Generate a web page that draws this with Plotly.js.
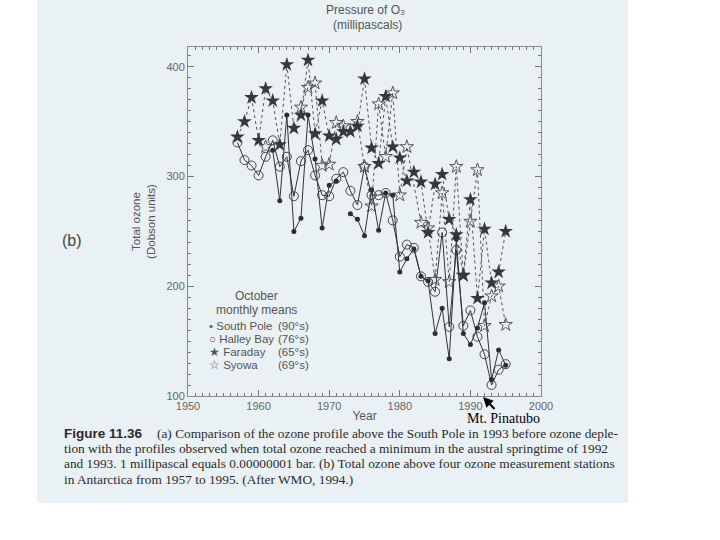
<!DOCTYPE html>
<html>
<head>
<meta charset="utf-8">
<script src="https://cdn.plot.ly/plotly-3.0.1.min.js"></script>
<style>
html,body{margin:0;padding:0;background:#ffffff;}
#chart{width:720px;height:540px;}
</style>
</head>
<body>
<div id="chart"></div>
<script>
// ---- data ----
const southPoleYears = [1962,1963,1964,1965,1966,1967,1968,1969,1970,1971,1972,1973,1974,1975,1976,1977,1978,1979,1980,1981,1982,1983,1984,1985,1986,1987,1988,1989,1990,1991,1992,1993,1994,1995];
const southPoleOzone = [324,278,356,250,262,356,316,253,292,296,null,266,261,246,288,251,285,283,213,225,234,209,205,157,180,134,243,157,147,162,185,115,142,128];

const halleyYears = [1957,1958,1959,1960,1961,1962,1963,1964,1965,1966,1967,1968,1969,1970,1971,1972,1973,1974,1975,1976,1977,1978,1979,1980,1981,1982,1983,1984,1985,1986,1987,1988,1989,1990,1991,1992,1993,1994,1995];
const halleyOzone = [331,315,310,301,318,333,309,318,282,314,324,301,283,282,298,304,287,274,309,283,283,285,260,227,238,235,209,204,195,249,163,233,164,178,154,138,110,124,129];

const faradayYears = [1957,1958,1959,1960,1961,1962,1963,1964,1965,1966,1967,1968,1969,1970,1971,1972,1973,1974,1975,1976,1977,1978,1979,1980,1981,1982,1983,1984,1985,1986,1987,1988,1989,1990,1991,1992,1993,1994,1995];
const faradayOzone = [336,350,372,333,380,369,329,402,344,356,406,339,369,337,334,341,341,346,389,326,312,373,327,317,296,304,295,249,293,302,261,247,210,279,189,252,203,213,250];

const syowaYears = [1961,1962,1966,1967,1968,1969,1970,1971,1972,1974,1975,1976,1977,1978,1979,1980,1981,1983,1984,1985,1986,1987,1988,1989,1990,1991,1992,1993,1994,1995];
const syowaOzone = [327,null,363,381,385,310,311,349,346,350,309,273,366,318,376,283,327,258,253,206,285,204,309,210,259,306,164,191,200,165];

const xTicks = [1950,1960,1970,1980,1990,2000];
const yTicks = [100,200,300,400];

const legendNames = ['\u2022 South Pole', '\u25CB Halley Bay', '\u2605 Faraday', '\u2606 Syowa'];
const legendLats = ['(90\u00B0s)', '(76\u00B0s)', '(65\u00B0s)', '(69\u00B0s)'];

const captionLines = [
  '(a) Comparison of the ozone profile above the South Pole in 1993 before ozone deple-',
  'tion with the profiles observed when total ozone reached a minimum in the austral springtime of 1992',
  'and 1993. 1 millipascal equals 0.00000001 bar. (b) Total ozone above four ozone measurement stations',
  'in Antarctica from 1957 to 1995. (After WMO, 1994.)'
];

// ---- traces ----
const traces = [
  {x: syowaYears, y: syowaOzone, mode: 'lines+markers', name: 'Syowa',
   line: {color: '#555', width: 1, dash: '3px,3px'},
   marker: {symbol: 'star-open', size: 10, color: '#555', line: {color: '#555', width: 1}}},
  {x: faradayYears, y: faradayOzone, mode: 'lines+markers', name: 'Faraday',
   line: {color: '#555', width: 1, dash: '3px,3px'},
   marker: {symbol: 'star', size: 11, color: '#383838'}},
  {x: halleyYears, y: halleyOzone, mode: 'lines+markers', name: 'Halley Bay',
   line: {color: '#333', width: 1},
   marker: {symbol: 'circle-open', size: 9, color: '#444', line: {color: '#444', width: 1}}},
  {x: southPoleYears, y: southPoleOzone, mode: 'lines+markers', name: 'South Pole',
   line: {color: '#333', width: 1},
   marker: {symbol: 'circle', size: 5, color: '#2e2e2e'}}
];

// ---- layout helpers ----
const L = 188, R = 541, T = 47, B = 396;
const px = v => (v - L) / (R - L);
const py = v => (B - v) / (B - T);
const gray = '#555';
const sans = 'Liberation Sans, Arial, sans-serif';
const serif = 'Liberation Serif, Times New Roman, serif';

const annotations = [
  {xref:'paper', yref:'paper', x: px(365), y: py(10), text: 'Pressure of O\u2083', showarrow:false,
   font:{family:sans, size:12, color:gray}, xanchor:'center', yanchor:'middle'},
  {xref:'paper', yref:'paper', x: px(367), y: py(25), text: '(millipascals)', showarrow:false,
   font:{family:sans, size:12, color:gray}, xanchor:'center', yanchor:'middle'},
  {xref:'paper', yref:'paper', x: px(72), y: py(240), text: '(b)', showarrow:false,
   font:{family:sans, size:16, color:'#444'}, xanchor:'center', yanchor:'middle'},
  {xref:'paper', yref:'paper', x: px(256), y: py(296), text: 'October', showarrow:false,
   font:{family:sans, size:12, color:gray}, xanchor:'center', yanchor:'middle'},
  {xref:'paper', yref:'paper', x: px(256), y: py(310), text: 'monthly means', showarrow:false,
   font:{family:sans, size:12, color:gray}, xanchor:'center', yanchor:'middle'},
  // Mt. Pinatubo label with arrow pointing at 1991 on the year axis
  {xref:'x', yref:'paper', x: 1991.8, y: py(397), text: 'Mt. Pinatubo', showarrow:true,
   ax: 20, ay: 21, standoff: 0, startstandoff: 0,
   arrowcolor:'#000', arrowwidth:2, arrowhead:2, arrowsize:1,
   font:{family:serif, size:14, color:'#000'}},
  {xref:'paper', yref:'paper', x: px(62), y: py(433), text: 'Figure 11.36', showarrow:false,
   font:{family:sans, size:13.5, color:'#2a2a2a', weight:'bold'}, xanchor:'left', yanchor:'middle'}
];
legendNames.forEach((n, i) => {
  const yy = 325.5 + i * 13.2;
  annotations.push({xref:'paper', yref:'paper', x: px(207), y: py(yy), text: n, showarrow:false,
    font:{family:sans, size:11.5, color:gray}, xanchor:'left', yanchor:'middle'});
  annotations.push({xref:'paper', yref:'paper', x: px(311), y: py(yy), text: legendLats[i], showarrow:false,
    font:{family:sans, size:11.5, color:gray}, xanchor:'right', yanchor:'middle'});
});
const capY = [433, 448.3, 463.6, 479];
const capX = [155, 62, 62, 62];
captionLines.forEach((t, i) => {
  annotations.push({xref:'paper', yref:'paper', x: px(capX[i]), y: py(capY[i]), text: t, showarrow:false,
    font:{family:serif, size:13.35, color:'#2a2a2a'}, xanchor:'left', yanchor:'middle'});
});

const axisCommon = {
  showline: true, linecolor: '#888', linewidth: 1, mirror: 'ticks',
  ticks: 'inside', ticklen: 6, tickcolor: '#777', tickwidth: 1,
  showgrid: false, zeroline: false,
  tickfont: {family: sans, size: 11, color: '#666'}
};

const layout = {
  width: 720, height: 540,
  margin: {l: L, r: 720 - R, t: T, b: 540 - B, pad: 0},
  paper_bgcolor: '#ffffff',
  plot_bgcolor: 'rgba(0,0,0,0)',
  showlegend: false,
  xaxis: Object.assign({}, axisCommon, {
    range: [1950, 2000], tickvals: xTicks, ticktext: xTicks.map(String),
    minor: {dtick: 1, tick0: 1950, ticks: 'inside', ticklen: 3, tickcolor: '#777'},
    title: {text: 'Year', standoff: 0, font: {family: sans, size: 12, color: gray}}
  }),
  yaxis: Object.assign({}, axisCommon, {
    range: [100, 418], tickvals: yTicks, ticktext: yTicks.map(String),
    minor: {dtick: 10, tick0: 100, ticks: 'inside', ticklen: 3, tickcolor: '#777'},
    title: {text: 'Total ozone<br>(Dobson units)', standoff: 8, font: {family: sans, size: 11.5, color: gray}}
  }),
  shapes: [
    {type: 'rect', xref: 'paper', yref: 'paper', layer: 'below',
     x0: px(37), x1: px(628), y0: py(503), y1: py(0),
     fillcolor: 'rgb(234,241,244)', line: {width: 0}}
  ],
  annotations: annotations
};

Plotly.newPlot('chart', traces, layout, {displayModeBar: false, staticPlot: true});
</script>
</body>
</html>
